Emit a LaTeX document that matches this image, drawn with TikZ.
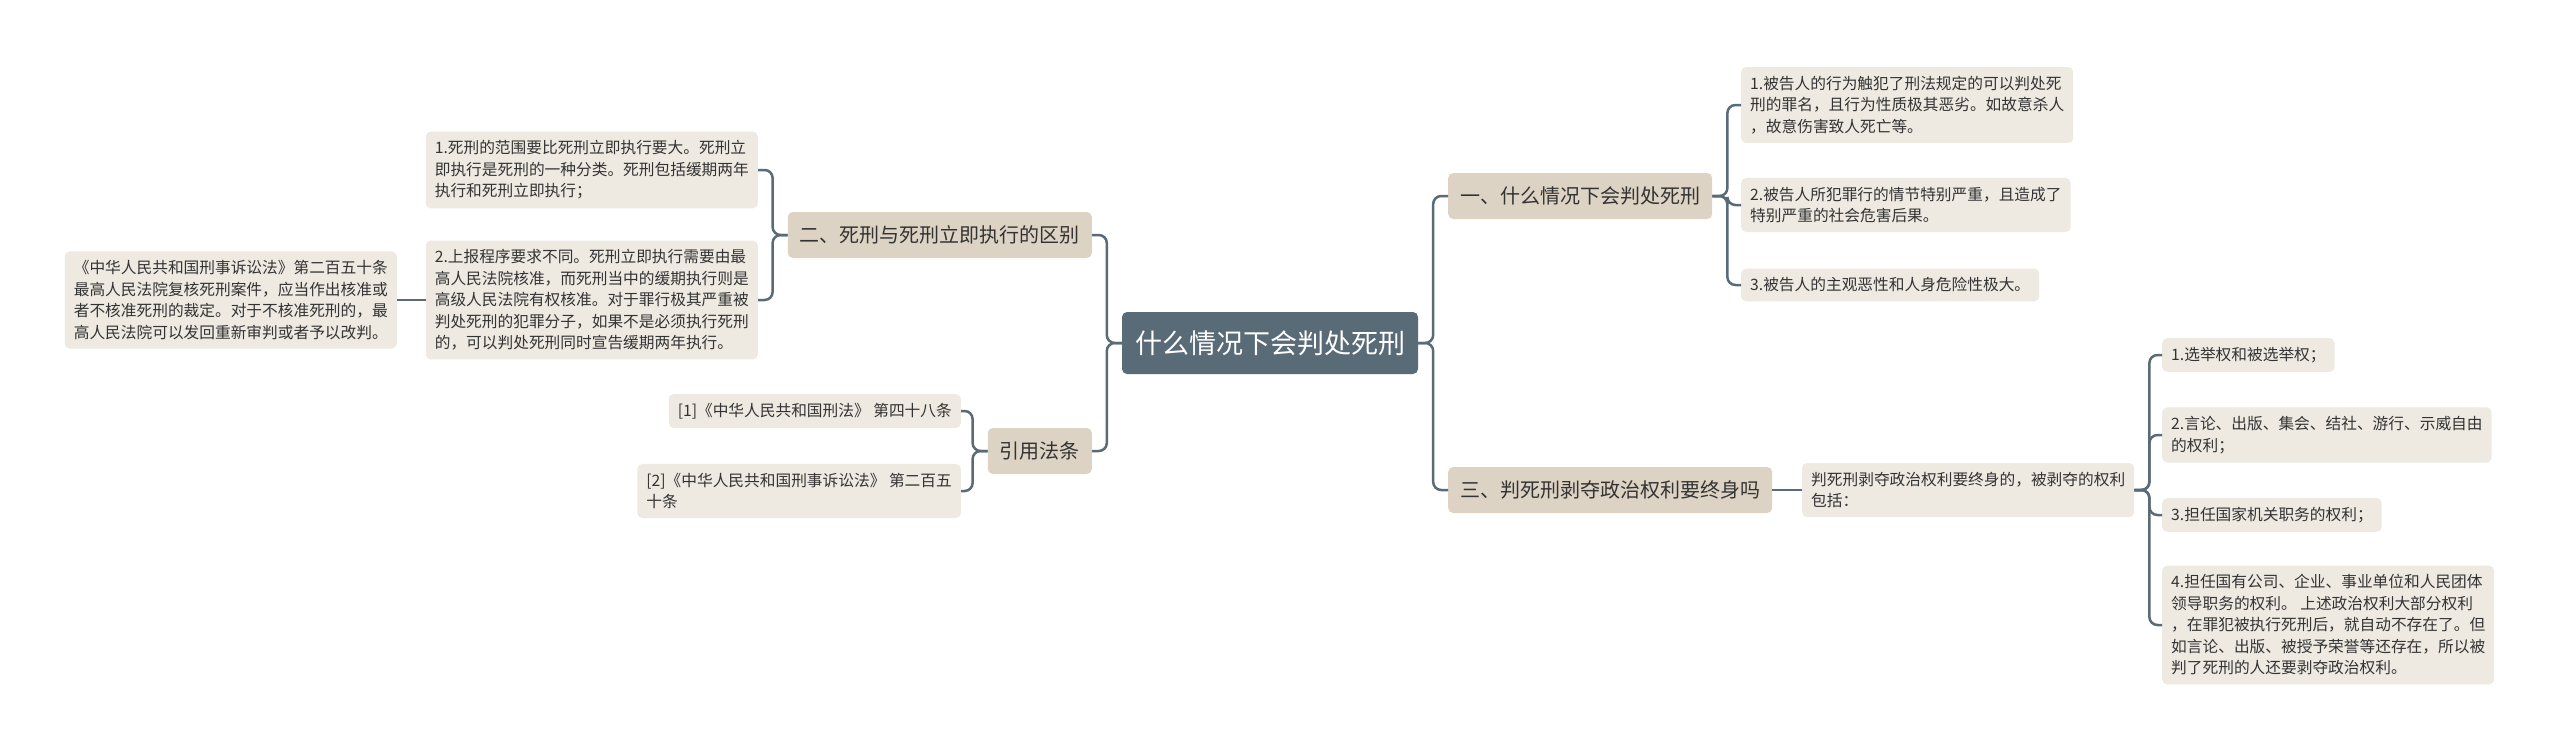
\documentclass[tikz,border=0pt]{standalone}
\usepackage{fontspec}
\newfontfamily\cjk{Noto Sans CJK SC}
\usepackage{xcolor}
\definecolor{rootfill}{HTML}{5A6B78}
\definecolor{linecol}{HTML}{5A6B78}
\definecolor{mainfill}{HTML}{DDD3C4}
\definecolor{leaffill}{HTML}{EEEAE2}
\definecolor{inkcol}{HTML}{333333}
\tikzset{rootbox/.style={rectangle, rounded corners=5pt, fill=rootfill, text=white, font=\cjk\fontsize{27}{32}\selectfont, inner xsep=13pt, inner ysep=0pt, minimum height=62pt}}
\tikzset{mainbox/.style={rectangle, rounded corners=5pt, fill=mainfill, text=inkcol, font=\cjk\fontsize{20}{24}\selectfont, inner xsep=12pt, inner ysep=0pt, minimum height=46pt}}
\tikzset{leafbox/.style={rectangle, rounded corners=5pt, fill=leaffill, text=inkcol, font=\cjk\fontsize{15.7}{21.5}\selectfont, align=left, inner xsep=9pt, inner ysep=9pt}}
\tikzset{link/.style={draw=linecol, line width=2.5pt, rounded corners=8pt}}

\begin{document}
\begin{tikzpicture}[x=1pt,y=-1pt]
  \path[use as bounding box, fill=white] (0,0) rectangle (2560,752);
  \node[rootbox] (root) at (1270,343) {什么情况下会判处死刑};
  % left side
  \node[mainbox, anchor=east] (diff) at (1092,235) {二、死刑与死刑立即执行的区别};
  \node[mainbox, anchor=east] (cite) at (1092,451) {引用法条};
  \node[leafbox, anchor=east] (diffa) at (758,170) {1.死刑的范围要比死刑立即执行要大。死刑立\\即执行是死刑的一种分类。死刑包括缓期两年\\执行和死刑立即执行；};
  \node[leafbox, anchor=east] (diffb) at (758,300) {2.上报程序要求不同。死刑立即执行需要由最\\高人民法院核准，而死刑当中的缓期执行则是\\高级人民法院有权核准。对于罪行极其严重被\\判处死刑的犯罪分子，如果不是必须执行死刑\\的，可以判处死刑同时宣告缓期两年执行。};
  \node[leafbox, anchor=east] (law) at (397,300) {《中华人民共和国刑事诉讼法》第二百五十条\\最高人民法院复核死刑案件，应当作出核准或\\者不核准死刑的裁定。对于不核准死刑的，最\\高人民法院可以发回重新审判或者予以改判。};
  \node[leafbox, anchor=east] (citea) at (961,411) {[1]《中华人民共和国刑法》 第四十八条};
  \node[leafbox, anchor=east] (citeb) at (961,491) {[2]《中华人民共和国刑事诉讼法》 第二百五\\十条};
  % right side
  \node[mainbox, anchor=west] (when) at (1448,196) {一、什么情况下会判处死刑};
  \node[mainbox, anchor=west] (life) at (1448,490) {三、判死刑剥夺政治权利要终身吗};
  \node[leafbox, anchor=west] (whena) at (1741,105) {1.被告人的行为触犯了刑法规定的可以判处死\\刑的罪名，且行为性质极其恶劣。如故意杀人\\，故意伤害致人死亡等。};
  \node[leafbox, anchor=west] (whenb) at (1741,205) {2.被告人所犯罪行的情节特别严重，且造成了\\特别严重的社会危害后果。};
  \node[leafbox, anchor=west] (whenc) at (1741,285) {3.被告人的主观恶性和人身危险性极大。};
  \node[leafbox, anchor=west] (lifea) at (1802,490) {判死刑剥夺政治权利要终身的，被剥夺的权利\\包括：};
  \node[leafbox, anchor=west] (righta) at (2162,355) {1.选举权和被选举权；};
  \node[leafbox, anchor=west] (rightb) at (2162,435) {2.言论、出版、集会、结社、游行、示威自由\\的权利；};
  \node[leafbox, anchor=west] (rightc) at (2162,515) {3.担任国家机关职务的权利；};
  \node[leafbox, anchor=west] (rightd) at (2162,625) {4.担任国有公司、企业、事业单位和人民团体\\领导职务的权利。 上述政治权利大部分权利\\，在罪犯被执行死刑后，就自动不存在了。但\\如言论、出版、被授予荣誉等还存在，所以被\\判了死刑的人还要剥夺政治权利。};
  % connectors
  \foreach \u/\v in {
    root/diff,
    root/cite,
    diff/diffa,
    diff/diffb,
    cite/citea,
    cite/citeb%
  }{
    \draw[link] (\u.west) -- ++(-15,0) |- (\v.east);
  }
  \foreach \u/\v in {
    root/when,
    root/life,
    when/whena,
    when/whenb,
    when/whenc,
    lifea/righta,
    lifea/rightb,
    lifea/rightc,
    lifea/rightd%
  }{
    \draw[link] (\u.east) -- ++(15,0) |- (\v.west);
  }
  \draw[link] (diffb.west) -- (law.east);
  \draw[link] (life.east) -- (lifea.west);
\end{tikzpicture}
\end{document}
